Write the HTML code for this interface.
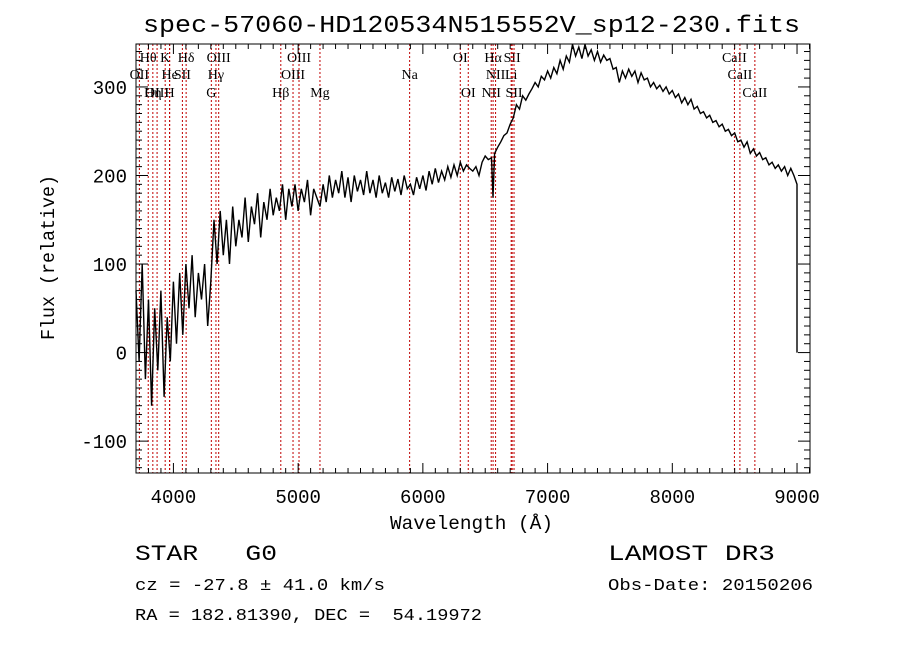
<!DOCTYPE html>
<html><head><meta charset="utf-8"><style>
body{margin:0;background:#fff;width:900px;height:649px;overflow:hidden}
svg text{font-family:"Liberation Mono",monospace;fill:#000}
</style></head><body>
<svg id="chart" width="900" height="649" viewBox="0 0 900 649" xmlns="http://www.w3.org/2000/svg">
<rect width="900" height="649" fill="#fff"/>
<text x="143" y="32" font-size="24" textLength="657" lengthAdjust="spacingAndGlyphs">spec-57060-HD120534N515552V_sp12-230.fits</text>
<g id="lines"></g>
<g id="spec"></g>
<g id="axes"></g>
<text transform="translate(54,340) rotate(-90)" font-size="19" textLength="165" lengthAdjust="spacingAndGlyphs">Flux (relative)</text>
<text x="390" y="529" font-size="19" textLength="163" lengthAdjust="spacingAndGlyphs">Wavelength (Å)</text>
<text x="135" y="560" font-size="22" xml:space="preserve" textLength="142" lengthAdjust="spacingAndGlyphs">STAR   G0</text>
<text x="608" y="560" font-size="22" textLength="167" lengthAdjust="spacingAndGlyphs">LAMOST DR3</text>
<text x="135" y="590" font-size="17" textLength="250" lengthAdjust="spacingAndGlyphs">cz = -27.8 ± 41.0 km/s</text>
<text x="608" y="590" font-size="17" textLength="205" lengthAdjust="spacingAndGlyphs">Obs-Date: 20150206</text>
<text x="135" y="620" font-size="17" xml:space="preserve" textLength="347" lengthAdjust="spacingAndGlyphs">RA = 182.81390, DEC =  54.19972</text>
</svg>
<script>
const spectrum = [[3700,70],[3725,-10],[3750,100],[3775,-30],[3800,60],[3825,-60],[3850,50],[3875,-20],[3900,70],[3925,-50],[3950,40],[3975,-10],[4000,80],[4025,10],[4050,90],[4075,20],[4100,100],[4125,50],[4150,110],[4175,40],[4200,90],[4225,60],[4250,100],[4275,30],[4300,80],[4325,150],[4350,100],[4375,160],[4400,110],[4425,150],[4450,100],[4475,165],[4500,120],[4525,150],[4550,130],[4575,175],[4600,125],[4625,165],[4650,145],[4675,180],[4700,130],[4725,170],[4750,150],[4775,185],[4800,155],[4825,175],[4850,160],[4875,190],[4900,150],[4925,185],[4950,165],[4975,190],[5000,160],[5025,185],[5050,170],[5075,195],[5100,155],[5125,185],[5150,175],[5175,165],[5200,190],[5225,170],[5250,200],[5275,175],[5300,195],[5325,180],[5350,205],[5375,175],[5400,198],[5425,170],[5450,200],[5475,182],[5500,195],[5525,178],[5550,205],[5575,180],[5600,195],[5625,175],[5650,200],[5675,180],[5700,192],[5725,175],[5750,198],[5775,182],[5800,196],[5825,178],[5850,200],[5875,185],[5900,190],[5925,178],[5950,198],[5975,185],[6000,200],[6025,183],[6050,205],[6075,190],[6100,208],[6125,192],[6150,205],[6175,195],[6200,210],[6225,198],[6250,212],[6275,200],[6300,215],[6325,205],[6350,212],[6375,208],[6400,205],[6425,210],[6450,200],[6475,215],[6500,222],[6525,218],[6550,220],[6562,175],[6575,225],[6600,232],[6625,238],[6650,245],[6675,248],[6700,258],[6725,265],[6750,280],[6775,275],[6800,290],[6825,285],[6850,292],[6875,298],[6900,305],[6925,300],[6950,312],[6975,308],[7000,318],[7025,310],[7050,322],[7075,315],[7100,330],[7125,320],[7150,335],[7175,328],[7200,348],[7225,335],[7250,345],[7275,332],[7300,348],[7325,335],[7350,342],[7375,330],[7400,340],[7425,328],[7450,336],[7475,330],[7500,332],[7525,320],[7550,322],[7575,305],[7600,318],[7625,310],[7650,320],[7675,312],[7700,318],[7725,305],[7750,316],[7775,308],[7800,310],[7825,300],[7850,305],[7875,298],[7900,302],[7925,295],[7950,300],[7975,292],[8000,296],[8025,288],[8050,292],[8075,282],[8100,288],[8125,280],[8150,286],[8175,275],[8200,278],[8225,270],[8250,272],[8275,265],[8300,268],[8325,260],[8350,262],[8375,255],[8400,258],[8425,250],[8450,252],[8475,245],[8500,248],[8525,238],[8550,240],[8575,232],[8600,238],[8625,225],[8650,230],[8675,222],[8700,226],[8725,218],[8750,220],[8775,212],[8800,215],[8825,208],[8850,212],[8875,205],[8900,210],[8925,200],[8950,208],[8975,200],[9000,190],[9000,0]];
const lineWave = [3727,3798,3835,3869,3934,3969,3970,4072,4102,4304,4341,4363,4861,4959,5007,5175,5894,6300,6364,6548,6563,6583,6708,6716,6731,8498,8542,8662];
const lineLabel = ["OII","Hθ","Hη","OIII","K","H","He","SII","Hδ","G","Hγ","OIII","Hβ","OIII","OIII","Mg","Na","OI","OI","NII","Hα","NII","Li","SII","SII","CaII","CaII","CaII"];
const lineRow = [2,1,3,3,1,3,2,2,1,3,2,1,3,2,1,3,2,1,3,3,1,2,2,1,3,1,2,3];
const xTicks = [4000,5000,6000,7000,8000,9000];
const yTicks = [-100,0,100,200,300];

const L=136,R=810,T=44,B=473, X0=3700,X1=9104, Y0=-136,Y1=348.5;
const sx=v=>L+(v-X0)/(X1-X0)*(R-L);
const sy=v=>B-(v-Y0)/(Y1-Y0)*(B-T);
const NS='http://www.w3.org/2000/svg';
function mk(tag,attrs,parent){const e=document.createElementNS(NS,tag);for(const k in attrs)e.setAttribute(k,attrs[k]);parent.appendChild(e);return e;}
const gl=document.getElementById('lines'),gs=document.getElementById('spec'),ga=document.getElementById('axes');
const rowY=[0,62,79,97];
lineWave.forEach((w,i)=>{
  const x=sx(w);
  const ln=mk('line',{x1:x,x2:x,y1:T,y2:B,stroke:'#c00000','stroke-width':1,'stroke-dasharray':'2,2'},gl);
  
  
  const t=mk('text',{x:x,y:rowY[lineRow[i]],'font-size':14,'text-anchor':'middle',style:'font-family:"Liberation Serif",serif'},gl);
  t.textContent=lineLabel[i];
  
  
});
const pts=spectrum.map(p=>sx(p[0]).toFixed(1)+','+sy(p[1]).toFixed(1)).join(' ');
const pl=mk('polyline',{points:pts,fill:'none',stroke:'#000','stroke-width':1.4},gs);


const fr=mk('rect',{x:L,y:T,width:R-L,height:B-T,fill:'none',stroke:'#000','stroke-width':1},ga);


for(let w=3700;w<=9100;w+=100){
  const x=sx(w),maj=w%1000===0,len=maj?10:5;
  mk('line',{x1:x,x2:x,y1:B,y2:B-len,stroke:'#000'},ga);
  mk('line',{x1:x,x2:x,y1:T,y2:T+len,stroke:'#000'},ga);
}
for(let v=-130;v<=340;v+=10){
  const y=sy(v),maj=v%100===0,len=maj?12:6;
  mk('line',{x1:L,x2:L+len,y1:y,y2:y,stroke:'#000'},ga);
  mk('line',{x1:R,x2:R-len,y1:y,y2:y,stroke:'#000'},ga);
}
xTicks.forEach(v=>{
  const t=mk('text',{x:sx(v),y:503,'font-size':19,'text-anchor':'middle'},ga);
  t.textContent=v;
  
  
});
yTicks.forEach(v=>{
  const t=mk('text',{x:127,y:sy(v)+7,'font-size':19,'text-anchor':'end'},ga);
  t.textContent=v;
  
  
});
</script>
</body></html>
